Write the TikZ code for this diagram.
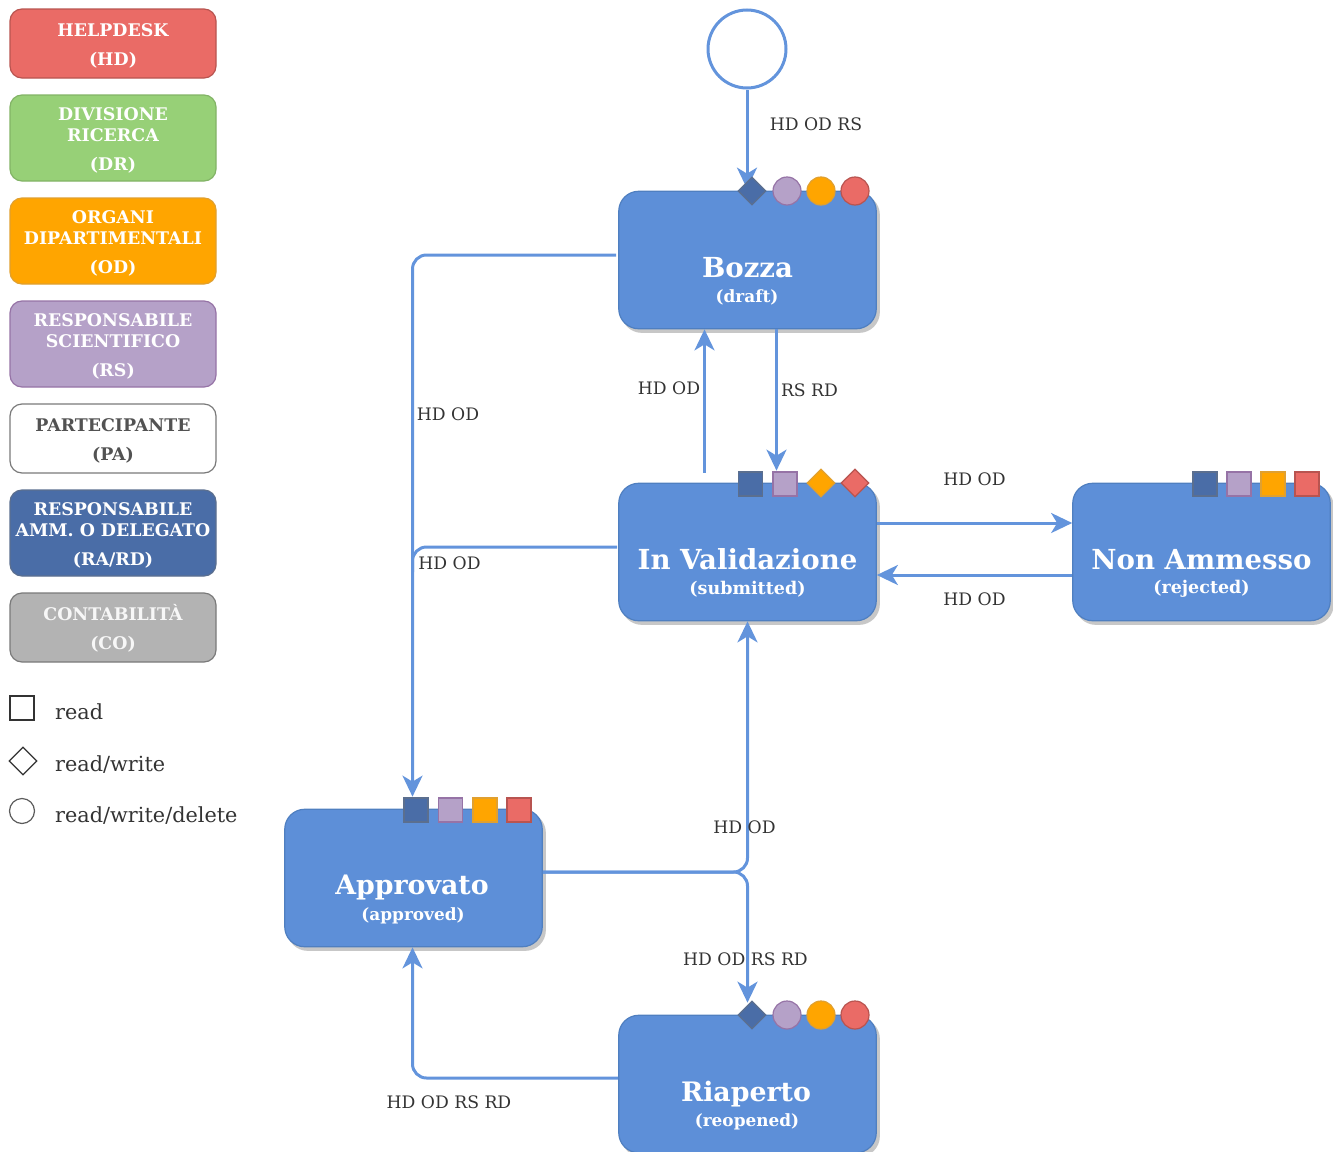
\documentclass[tikz,border=0pt]{standalone}
\usepackage{fontspec}
\setmainfont{DejaVu Serif}
\usetikzlibrary{arrows.meta,shapes.geometric,calc}
\definecolor{cRed}{HTML}{EA6B66}\definecolor{cRedL}{HTML}{B85450}
\definecolor{cGreen}{HTML}{97D077}\definecolor{cGreenL}{HTML}{82B366}
\definecolor{cOrange}{HTML}{FFA500}\definecolor{cOrangeL}{HTML}{E0A030}
\definecolor{cPurple}{HTML}{B5A1C8}\definecolor{cPurpleL}{HTML}{9673A6}
\definecolor{cBlue}{HTML}{4A6DA7}\definecolor{cBlueL}{HTML}{5B6F8F}
\definecolor{cGray}{HTML}{B3B3B3}\definecolor{cGrayL}{HTML}{7A7A7A}
\definecolor{cState}{HTML}{5D8FD8}\definecolor{cStateL}{HTML}{4F7FC0}
\definecolor{cLine}{HTML}{6394DC}\definecolor{cInk}{HTML}{333333}
\newcommand{\lgtop}{\rule{0pt}{17.5pt}}
\tikzset{
  x=1pt,y=-1pt,
  legendbox/.style={draw,line width=1.2pt,rounded corners=12pt,minimum width=206pt,inner sep=0pt,align=center,
    text=white,font=\fontsize{17.4}{21}\selectfont\bfseries},
  statebox/.style={draw=cStateL,fill=cState,line width=1.2pt,rounded corners=20pt,minimum width=257.5pt,minimum height=137.5pt,inner sep=0pt,
    preaction={draw=black!22,fill=black!22,transform canvas={xshift=3pt,yshift=-3.5pt}}},
  statetitle/.style={text=white,align=center,inner sep=0pt,font=\fontsize{27.6}{28}\selectfont\bfseries},
  statetitlesmall/.style={text=white,align=center,inner sep=0pt,font=\fontsize{26.8}{28}\selectfont\bfseries},
  statesub/.style={text=white,align=center,inner sep=0pt,font=\fontsize{17.5}{18}\selectfont\bfseries},
  statesubsmall/.style={text=white,align=center,inner sep=0pt,font=\fontsize{16.9}{18}\selectfont\bfseries},
  sq/.style={rectangle,draw,line width=1.4pt,minimum size=24pt,inner sep=0pt},
  dia/.style={diamond,draw,line width=1.2pt,minimum size=28pt,inner sep=0pt},
  circ/.style={circle,draw,line width=1.2pt,minimum size=28pt,inner sep=0pt},
  mBlue/.style={fill=cBlue,draw=cBlueL},
  mPurple/.style={fill=cPurple,draw=cPurpleL},
  mOrange/.style={fill=cOrange,draw=cOrangeL},
  mRed/.style={fill=cRed,draw=cRedL},
  conn/.style={draw=cLine,line width=3pt,rounded corners=14pt,-{Stealth[length=21pt,width=20pt,inset=6pt]}},
  plain/.style={draw=cLine,line width=3pt,rounded corners=14pt},
  elabel/.style={text=cInk,inner sep=0pt,font=\fontsize{17.2}{20}\selectfont},
  keytext/.style={text=cInk,inner sep=0pt,anchor=base west,font=\fontsize{20.8}{24}\selectfont},
}
\begin{document}
\begin{tikzpicture}
\useasboundingbox (0,0) rectangle (1333,1151);
% legend
\node[legendbox,fill=cRed,draw=cRedL,minimum height=69pt] (hd) at (113,43.5) {\lgtop HELPDESK\\[8pt](HD)};
\node[legendbox,fill=cGreen,draw=cGreenL,minimum height=86pt] (dr) at (113,138) {\lgtop DIVISIONE\\RICERCA\\[8pt](DR)};
\node[legendbox,fill=cOrange,draw=cOrangeL,minimum height=86pt] (od) at (113,241) {\lgtop ORGANI\\DIPARTIMENTALI\\[8pt](OD)};
\node[legendbox,fill=cPurple,draw=cPurpleL,minimum height=86pt] (rs) at (113,344) {\lgtop RESPONSABILE\\SCIENTIFICO\\[8pt](RS)};
\node[legendbox,fill=white,draw=cGrayL,text=cInk!85,minimum height=69pt] (pa) at (113,438.5) {\lgtop PARTECIPANTE\\[8pt](PA)};
\node[legendbox,fill=cBlue,draw=cBlueL,minimum height=86pt] (ra) at (113,533) {\lgtop RESPONSABILE\\AMM. O DELEGATO\\[8pt](RA/RD)};
\node[legendbox,fill=cGray,draw=cGrayL,minimum height=69pt,text=white!90!cGray] (co) at (113,627.5) {\lgtop CONTABILITÀ\\[8pt](CO)};
% key
\node[sq,draw=cInk,fill=white] (ksq) at (22,708) {};
\node[dia,draw=cInk,fill=white] (kdi) at (23,761) {};
\node[circ,draw=cInk!80,fill=white,minimum size=25pt] (kci) at (22,811) {};
\node[keytext] (t1) at (55,719) {read};
\node[keytext] (t2) at (55,771) {read/write};
\node[keytext] (t3) at (55,822) {read/write/delete};
% states
\node[circle,draw=cLine,fill=white,line width=3pt,minimum size=78pt,inner sep=0pt] (start) at (747,49) {};
\node[statebox] (bozza) at (747.5,260) {};
\node[statebox] (valid) at (747.5,552) {};
\node[statebox] (nonam) at (1201.5,552) {};
\node[statebox] (appro) at (413.5,878) {};
\node[statebox] (riape) at (747.5,1084) {};
% connectors
\draw[conn] (start.south) -- ([yshift=2pt]bozza.north -| start.south);
\draw[conn] ([yshift=5pt,xshift=-2pt]bozza.west) -| ([yshift=12pt,xshift=-1pt]appro.north);
\draw[plain] ([yshift=5pt,xshift=-1pt]valid.west) -| ([yshift=-20pt,xshift=-1pt]appro.north |- valid.west);
\draw[conn] ([xshift=-43pt,yshift=10pt]valid.north) -- ([xshift=-43pt]bozza.south);
\draw[conn] ([xshift=29pt]bozza.south) -- ([xshift=29pt,yshift=12pt]valid.north);
\draw[conn] ([yshift=29pt]valid.east) -- ([yshift=29pt]nonam.west);
\draw[conn] ([yshift=-23pt]nonam.west) -- ([yshift=-23pt]valid.east);
\draw[conn] ([yshift=6pt]appro.east) -| (valid.south);
\draw[conn] ([yshift=6pt]appro.east) -| ([yshift=12pt]riape.north);
\draw[conn] ([yshift=6pt]riape.west) -| ([xshift=-1pt]appro.south);
% markers
\node[dia,mBlue] (b1) at (752,191) {};
\node[circ,mPurple] (b2) at (787,191) {};
\node[circ,mOrange] (b3) at (821,191) {};
\node[circ,mRed] (b4) at (855,191) {};
\node[sq,mBlue] (v1) at (750.5,484) {};
\node[sq,mPurple] (v2) at (785,484) {};
\node[dia,mOrange] (v3) at (821,483) {};
\node[dia,mRed] (v4) at (855,483) {};
\node[sq,mBlue] (n1) at (1205,484) {};
\node[sq,mPurple] (n2) at (1239,484) {};
\node[sq,mOrange] (n3) at (1273,484) {};
\node[sq,mRed] (n4) at (1307,484) {};
\node[sq,mBlue] (a1) at (416,810) {};
\node[sq,mPurple] (a2) at (450.5,810) {};
\node[sq,mOrange] (a3) at (485,810) {};
\node[sq,mRed] (a4) at (519,810) {};
\node[dia,mBlue] (r1) at (752,1015) {};
\node[circ,mPurple] (r2) at (787,1015) {};
\node[circ,mOrange] (r3) at (821,1015) {};
\node[circ,mRed] (r4) at (855,1015) {};
% state text
\node[statetitle] (bt) at (747.5,268) {Bozza};
\node[statesubsmall] (bs) at (747,297) {(draft)};
\node[statetitle] (vt) at (747.5,559.5) {In Validazione};
\node[statesub] (vs) at (747.5,589) {(submitted)};
\node[statetitle] (nt) at (1201.5,559.5) {Non Ammesso};
\node[statesub] (ns) at (1201.5,589) {(rejected)};
\node[statetitlesmall] (at) at (412,888) {Approvato};
\node[statesubsmall] (as) at (413,916) {(approved)};
\node[statetitlesmall] (rt) at (746,1094) {Riaperto};
\node[statesubsmall] (rs2) at (747,1122) {(reopened)};
% edge labels
\node[elabel] (l1) at (816,124) {HD OD RS};
\node[elabel] (l2) at (448,414) {HD OD};
\node[elabel] (l3) at (449.5,563) {HD OD};
\node[elabel] (l4) at (669,388) {HD OD};
\node[elabel] (l5) at (809.5,390) {RS RD};
\node[elabel] (l6) at (974.5,479) {HD OD};
\node[elabel] (l7) at (974.5,599) {HD OD};
\node[elabel] (l8) at (744.5,827) {HD OD};
\node[elabel] (l9) at (745.5,959.5) {HD OD RS RD};
\node[elabel] (l10) at (449,1102) {HD OD RS RD};
\end{tikzpicture}
\end{document}
